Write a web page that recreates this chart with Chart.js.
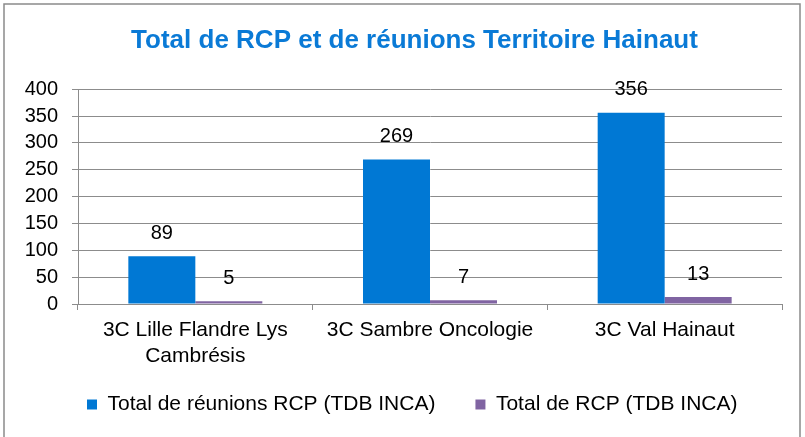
<!DOCTYPE html>
<html>
<head>
<meta charset="utf-8">
<script src="https://cdn.jsdelivr.net/npm/chart.js@4/dist/chart.umd.min.js"></script>
<style>
  html, body { margin: 0; padding: 0; background: #fff; }
  #wrap { position: relative; width: 805px; height: 437px; }
  canvas { display: block; }
</style>
</head>
<body>
<div id="wrap"><canvas id="c" width="805" height="437"></canvas></div>
<script>
const titleText = "Total de RCP et de réunions Territoire Hainaut";
const categories = [["3C Lille Flandre Lys", "Cambrésis"], "3C Sambre Oncologie", "3C Val Hainaut"];
const seriesNames = ["Total de réunions RCP (TDB INCA)", "Total de RCP (TDB INCA)"];
const reunionsRCP = [89, 269, 356];
const totalRCP = [5, 7, 13];
const yMin = 0, yMax = 400, yStep = 50;

const FONT = "'Liberation Sans', Arial, sans-serif";
const GRID = "#8c8c8c";

const frame = {
  id: "frame",
  beforeDraw(chart) {
    const ctx = chart.ctx;
    ctx.save();
    ctx.fillStyle = "#fff";
    ctx.fillRect(0, 0, chart.width, chart.height);
    ctx.strokeStyle = "#8a8a8a";
    ctx.lineWidth = 1.5;
    ctx.strokeRect(4, 4, 796, 445);
    ctx.restore();
  }
};

const valueLabels = {
  id: "valueLabels",
  afterDatasetsDraw(chart) {
    const ctx = chart.ctx;
    ctx.save();
    ctx.font = "20px " + FONT;
    ctx.fillStyle = "#000";
    ctx.textAlign = "center";
    ctx.textBaseline = "middle";
    chart.data.datasets.forEach((ds, i) => {
      chart.getDatasetMeta(i).data.forEach((el, j) => {
        ctx.fillText(String(ds.data[j]), el.x, el.y - 23);
      });
    });
    ctx.restore();
  }
};

new Chart(document.getElementById("c"), {
  type: "bar",
  data: {
    labels: categories,
    datasets: [
      { label: seriesNames[0], data: reunionsRCP, backgroundColor: "#0078d4", borderWidth: 0 },
      { label: seriesNames[1], data: totalRCP, backgroundColor: "#8064a2", borderWidth: 0 }
    ]
  },
  options: {
    responsive: false,
    animation: false,
    devicePixelRatio: 1,
    layout: { padding: { left: 47, right: 23, top: 0, bottom: 12 } },
    categoryPercentage: 0.571,
    barPercentage: 1,
    plugins: {
      title: {
        display: true,
        text: titleText,
        color: "#0a7ad6",
        font: { family: FONT, size: 26, weight: "bold", lineHeight: 1.2 },
        padding: { top: 25, bottom: 33 }
      },
      legend: {
        display: true,
        position: "bottom",
        align: "start",
        labels: {
          color: "#000",
          font: { family: FONT, size: 21 },
          boxWidth: 10,
          boxHeight: 10,
          padding: 40
        }
      },
      tooltip: { enabled: false }
    },
    scales: {
      x: {
        grid: { display: true, drawOnChartArea: false, drawTicks: true, tickLength: 6, color: GRID, offset: true },
        border: { display: true, color: GRID },
        ticks: { color: "#000", font: { family: FONT, size: 21, lineHeight: 1.2 }, padding: 8, maxRotation: 0, autoSkip: false },
        afterFit(scale) { scale.height = 50; scale._computeLabelArea = () => null; }
      },
      y: {
        min: yMin,
        max: yMax,
        grid: { color: GRID, tickLength: 6, drawTicks: true },
        border: { display: true, color: GRID },
        ticks: { stepSize: yStep, autoSkip: false, maxTicksLimit: 20, color: "#000", font: { family: FONT, size: 20 }, padding: 14 },
        afterFit(scale) { scale.width = 31; scale._computeLabelArea = () => null; }
      }
    }
  },
  plugins: [frame, valueLabels]
});
</script>
</body>
</html>
